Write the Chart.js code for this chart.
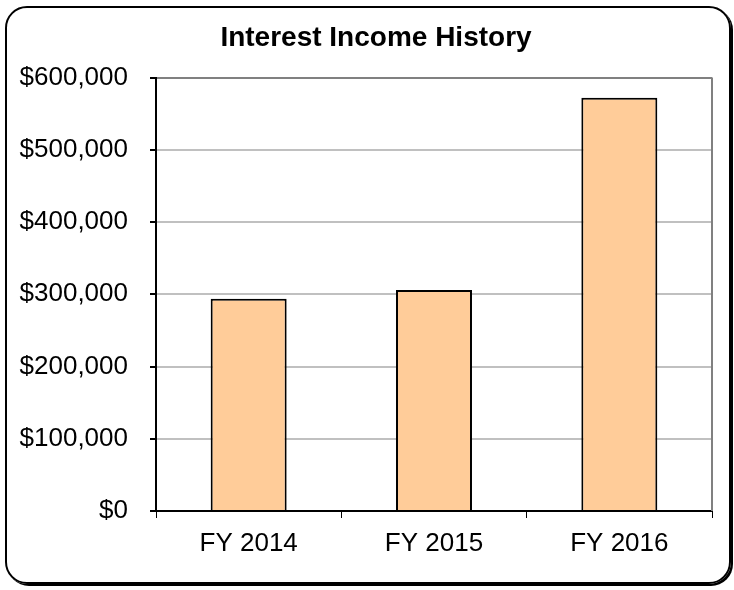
<!DOCTYPE html>
<html>
<head>
<meta charset="utf-8">
<script src="https://cdn.jsdelivr.net/npm/chart.js@4.4.1/dist/chart.umd.min.js"></script>
<style>
  html, body { margin: 0; padding: 0; background: #fff; }
  .wrap { position: relative; width: 734px; height: 590px; }
  .frame {
    position: absolute; left: 5px; top: 6px; width: 722px; height: 574px;
    border: 2px solid #000; border-radius: 22px;
    box-shadow: 2px 2px 0 #000;
    pointer-events: none;
  }
  canvas { position: absolute; left: 0; top: 0; }
</style>
</head>
<body>
<div class="wrap">
  <canvas id="chart" width="734" height="590"></canvas>
  <div class="frame"></div>
</div>
<script>
// Chart data
const categories = ["FY 2014", "FY 2015", "FY 2016"];
const interestIncome = [294000, 306000, 572000];
const yTicks = [0, 100000, 200000, 300000, 400000, 500000, 600000];

const FONT = "'Liberation Sans', Arial, sans-serif";

// Title sits a little right of the canvas centre, and a gray line closes the plot on the right
const plotFrame = {
  id: "plotFrame",
  afterLayout(chart) {
    if (chart.titleBlock) {
      chart.titleBlock.left += 20;
      chart.titleBlock.right += 20;
    }
  },
  afterDraw(chart) {
    const { ctx, chartArea } = chart;
    ctx.save();
    ctx.strokeStyle = "#808080";
    ctx.lineWidth = 2;
    ctx.beginPath();
    ctx.moveTo(chartArea.right, chartArea.top);
    ctx.lineTo(chartArea.right, chartArea.bottom);
    ctx.stroke();
    ctx.restore();
  }
};

const ctx = document.getElementById("chart").getContext("2d");

new Chart(ctx, {
  type: "bar",
  data: {
    labels: categories,
    datasets: [{
      label: "Interest Income",
      data: interestIncome,
      backgroundColor: "#FFCC99",
      borderColor: "#000000",
      borderWidth: 2,
      barPercentage: 0.41,
      categoryPercentage: 1
    }]
  },
  options: {
    responsive: false,
    animation: false,
    layout: { padding: { left: 0, right: 22, top: 0, bottom: 0 } },
    plugins: {
      legend: { display: false },
      tooltip: { enabled: false },
      title: {
        display: true,
        text: "Interest Income History",
        color: "#000",
        font: { family: FONT, size: 28, weight: "bold", lineHeight: 1.2 },
        padding: { top: 21, bottom: 23 }
      }
    },
    scales: {
      x: {
        afterFit(axis) { axis.height = 79; },
        grid: {
          offset: true,
          drawOnChartArea: false,
          tickColor: "#000",
          tickLength: 7
        },
        border: { color: "#000", width: 2 },
        ticks: {
          color: "#000",
          padding: 10,
          font: { family: FONT, size: 26 }
        }
      },
      y: {
        min: 0,
        max: 600000,
        afterFit(axis) { axis.width = 156; },
        afterBuildTicks(axis) { axis.ticks = yTicks.map(v => ({ value: v })); },
        grid: {
          color: c => (c.tick && c.tick.value === 600000 ? "#808080" : "#c0c0c0"),
          lineWidth: 2,
          tickColor: "#000",
          tickLength: 6
        },
        border: { color: "#000", width: 2 },
        ticks: {
          color: "#000",
          padding: 22,
          font: { family: FONT, size: 26 },
          callback: v => "$" + v.toLocaleString("en-US")
        }
      }
    }
  },
  plugins: [plotFrame]
});
</script>
</body>
</html>
